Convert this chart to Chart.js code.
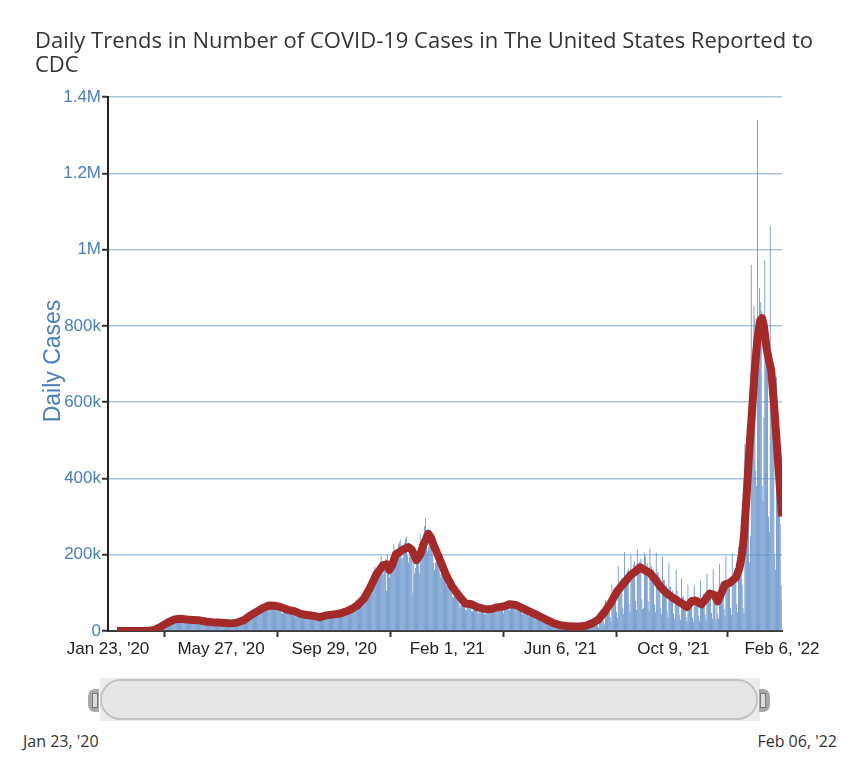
<!DOCTYPE html>
<html>
<head>
<meta charset="utf-8">
<script src="https://cdn.jsdelivr.net/npm/chart.js@4.4.1/dist/chart.umd.min.js"></script>
<style>
html,body{margin:0;padding:0;background:#fff;}
#wrap{position:relative;width:859px;height:768px;overflow:hidden;background:#fff;}
#title{position:absolute;left:35px;top:27px;font-family:'Open Sans',sans-serif;font-size:22px;line-height:24px;color:#333;white-space:nowrap;transform-origin:0 0;}
#c{position:absolute;left:0;top:0;}
#ytitle{position:absolute;left:-48px;top:348px;width:200px;height:26px;line-height:26px;text-align:center;font-family:'Liberation Sans',Arial,sans-serif;font-size:23px;color:#4a7ebb;transform:rotate(-90deg);}
#sbg{position:absolute;left:100px;top:678px;width:660px;height:43px;background:#ececec;}
#pill{position:absolute;left:100px;top:679px;width:654px;height:37px;border:2px solid #c2c2c2;border-radius:21px;background:#e6e6e6;}
.hnd{position:absolute;top:689px;width:11px;height:23px;background:#a8a8a8;}
.hnd i{position:absolute;top:4px;width:4px;height:13px;border:1px solid #777;background:#ddd;}
#hl{left:88px;border-radius:7px 0 0 7px;}
#hl i{left:4px;}
#hr{left:759px;border-radius:0 7px 7px 0;}
#hr i{left:1px;}
.slab{position:absolute;top:730px;font-family:'Open Sans',sans-serif;font-size:16px;color:#333;white-space:nowrap;}
#sl{left:23px;}
#sr{right:22px;}
</style>
</head>
<body>
<div id="wrap">
  <canvas id="c" width="859" height="680"></canvas>
  <div id="title">Daily Trends in Number of COVID-19 Cases in The United States Reported to<br>CDC</div>
  <div id="ytitle">Daily Cases</div>
  <div id="sbg"></div>
  <div id="pill"></div>
  <div class="hnd" id="hl"><i></i></div>
  <div class="hnd" id="hr"><i></i></div>
  <div class="slab" id="sl">Jan 23, '20</div>
  <div class="slab" id="sr">Feb 06, '22</div>
</div>
<script>
// x positions are day numbers counted from Jan 23, 2020 (day 0) to Feb 6, 2022 (day 745)
const xTickDays = [0, 125, 250, 375, 500, 625, 745];
const xTickLabels = ["Jan 23, '20", "May 27, '20", "Sep 29, '20", "Feb 1, '21", "Jun 6, '21", "Oct 9, '21", "Feb 6, '22"];
const yTickValues = [0, 200000, 400000, 600000, 800000, 1000000, 1200000, 1400000];
const yTickLabels = ["0", "200k", "400k", "600k", "800k", "1M", "1.2M", "1.4M"];

// daily new cases, in thousands, one value per day (Thu..Wed weeks)
const dailyCasesK = [
0,0,0,0,0,0,0, 0,0,0,0,0,0,0, 0,0,0,0,0,0,0, 0,0,0,0,0,0,0, 0,0,0,0,0,0,0, 0,0,0,0,0,0,0,
0.05,0.1,0.1,0.1,0.2,0.3,0.4, 0.5,0.7,0.9,1.0,1.5,2.0,3.0, 4,6,7,8,9,10,12, 16,18,19,18,20,24,26,
28,32,33,26,28,30,31, 33,34,31,28,27,29,30, 32,34,30,27,26,27,29, 30,34,33,27,26,25,27,
29,31,29,25,24,23,24, 28,27,25,21,20,21,22, 26,26,24,20,19,21,21, 25,24,21,19,17,19,20,
22,25,23,20,18,19,20, 22,23,22,18,17,19,21, 23,26,24,19,18,23,25, 28,32,31,26,25,33,37,
40,44,42,36,40,46,52, 55,58,46,42,45,58,60, 62,68,62,58,55,64,66, 72,76,64,58,58,64,69,
70,72,65,55,52,60,68, 68,68,58,48,46,52,58, 58,62,55,46,44,50,54, 56,62,56,42,38,44,48,
47,49,44,38,36,40,44, 44,48,44,36,32,38,42, 45,50,42,34,28,26,34, 36,46,38,34,32,38,40,
44,48,42,38,36,40,40, 44,50,46,36,36,42,44, 48,52,48,38,38,44,46, 56,58,50,42,40,48,54,
62,68,54,46,52,60,62, 72,82,78,58,62,72,78, 90,96,84,72,80,92,100, 118,126,118,98,108,132,140,
152,168,155,132,142,158,168, 182,196,170,148,160,176,190, 105,200,152,140,165,178,200,
210,228,215,180,185,210,228, 232,240,220,188,192,200,232, 242,248,198,180,195,198,228,
196,100,222,150,165,190,200, 208,150,255,200,205,232,255, 275,296,258,210,218,230,235,
242,244,200,178,160,180,190, 196,198,178,150,140,150,160, 165,165,150,120,118,122,132,
128,124,110,90,88,95,100, 102,100,86,74,60,68,74, 70,74,72,56,54,66,72, 76,76,64,52,52,58,66,
66,64,56,46,48,56,60, 62,64,54,44,46,54,60, 62,66,56,46,46,54,62, 66,72,64,52,56,62,70,
74,74,58,46,58,66,74, 78,82,68,54,62,70,76, 76,78,64,52,56,62,68, 68,68,56,44,48,54,60,
58,58,48,38,40,46,52, 50,50,40,30,32,38,42, 40,40,32,24,26,30,34, 32,32,26,18,20,24,26,
24,22,16,12,10,14,18, 20,20,14,10,12,16,18, 16,18,10,8,10,14,16, 14,14,8,6,10,12,14,
16,14,6,5,14,14,16, 18,16,5,3,4,16,20, 21,22,10,7,32,21,21, 32,33,15,10,49,32,32,
53,55,24,17,82,53,53, 79,83,36,25,122,79,79, 110,115,50,35,170,110,110, 134,140,61,43,207,134,134,
156,163,71,50,200,156,156, 174,182,79,55,215,174,174, 182,190,83,58,60,205,195, 170,178,78,54,215,170,170,
154,161,70,49,205,154,154, 134,140,61,43,195,134,134, 116,121,53,37,178,116,116, 101,106,46,32,95,160,106,
90,94,41,29,139,90,90, 79,83,36,25,122,79,79, 77,80,35,25,119,77,77, 86,90,39,27,133,86,86,
97,80,44,31,150,97,97, 105,109,48,33,162,105,105, 30,70,45,32,175,125,130, 127,132,58,40,196,127,127,
132,138,60,42,204,132,132, 154,161,70,49,220,154,180, 230,120,60,45,490,300,320,
520,440,180,250,960,700,720, 852,820,420,380,1340,760,900, 862,840,380,340,560,973,780,
760,690,300,260,1062,600,620, 703,560,200,160,666,420,317, 330,280,120,80
];

// 7-day moving average, in thousands, read at these day numbers
const avgDays = [10,45,52,59,66,73,80,87,94,101,108,115,122,129,136,143,150,157,164,171,178,185,192,199,206,213,220,227,234,241,248,255,262,269,276,283,290,297,304,308,311,314,318,325,332,336,341,345,349,354,357,360,367,374,380,388,395,402,409,416,423,430,437,444,451,458,465,472,479,486,493,500,507,514,521,528,535,542,549,556,563,570,577,584,588,593,599,605,610,617,625,633,640,645,649,656,661,665,670,674,678,682,687,694,698,701,703,706,709,712,715,718,721,723,725,728,731,733,736,739,742,745];
const avgCasesK = [0,0.5,3,12,22,30,32,30,29,28,25,23,22,21,20,22,28,40,50,60,67,66,62,55,52,45,42,40,36,41,43,45,50,57,68,85,115,150,172,175,160,172,200,212,220,212,186,200,228,255,245,225,186,145,118,92,72,70,62,58,57,62,64,70,68,60,52,44,36,28,20,15,13,12,12,14,20,30,50,75,105,125,145,158,167,160,152,135,118,100,86,74,63,78,80,70,85,98,95,78,100,122,126,140,165,205,250,360,480,580,690,770,815,820,800,740,705,685,600,500,400,300];

const barData = dailyCasesK.map((v, i) => ({x: i, y: v * 1000}));
const lineData = avgDays.map((d, i) => ({x: d, y: avgCasesK[i] * 1000}));

new Chart(document.getElementById('c').getContext('2d'), {
  type: 'bar',
  data: {
    datasets: [
      {type: 'line', label: '7-Day Moving Average', data: lineData, borderColor: '#a42a2a', borderWidth: 8,
       pointRadius: 0, tension: 0, order: 0, borderJoinStyle: 'round', borderCapStyle: 'butt', fill: false},
      {type: 'bar', label: 'Daily Cases', data: barData, backgroundColor: '#6390c8',
       barPercentage: 0.9, categoryPercentage: 1, order: 1}
    ]
  },
  options: {
    responsive: false, animation: false, devicePixelRatio: 1,
    layout: {padding: {left: 20, top: 97, right: 77, bottom: 9}},
    plugins: {legend: {display: false}, tooltip: {enabled: false}, title: {display: false}},
    scales: {
      x: {
        type: 'linear', min: 0, max: 745, offset: false,
        afterBuildTicks: (s) => { s.ticks = xTickDays.map(v => ({value: v})); },
        ticks: {autoSkip: false, maxRotation: 0, padding: 2, color: '#222',
          font: {family: "'Liberation Sans', Arial, sans-serif", size: 17},
          callback: (v) => { const i = xTickDays.indexOf(v); return i >= 0 ? xTickLabels[i] : ''; }},
        grid: {drawOnChartArea: false, drawTicks: true, tickLength: 6, tickColor: '#333', tickWidth: 2},
        border: {display: true, color: '#3a3a3a', width: 2},
        afterFit: (s) => { s.height = 40; }
      },
      y: {
        min: 0, max: 1400000,
        afterBuildTicks: (s) => { s.ticks = yTickValues.map(v => ({value: v})); },
        ticks: {padding: 1, color: '#4a7ebb',
          font: {family: "'Liberation Sans', Arial, sans-serif", size: 17},
          callback: (v) => { const i = yTickValues.indexOf(v); return i >= 0 ? yTickLabels[i] : ''; }},
        grid: {color: '#a9c3e4', lineWidth: 1.5, tickColor: '#333', tickLength: 6, tickWidth: 2},
        border: {display: true, color: '#222', width: 2},
        afterFit: (s) => { s.width = 88; }
      }
    }
  }
});

// fit the title's first line to the width it has in the reference
(function () {
  const t = document.getElementById('title');
  const probe = document.createElement('span');
  probe.style.cssText = "font-family:'Open Sans',sans-serif;font-size:22px;white-space:nowrap;position:absolute;visibility:hidden";
  probe.textContent = 'Daily Trends in Number of COVID-19 Cases in The United States Reported to';
  document.body.appendChild(probe);
  const w = probe.getBoundingClientRect().width;
  document.body.removeChild(probe);
  if (w > 0) t.style.transform = 'scaleX(' + (778 / w) + ')';
})();
</script>
</body>
</html>
